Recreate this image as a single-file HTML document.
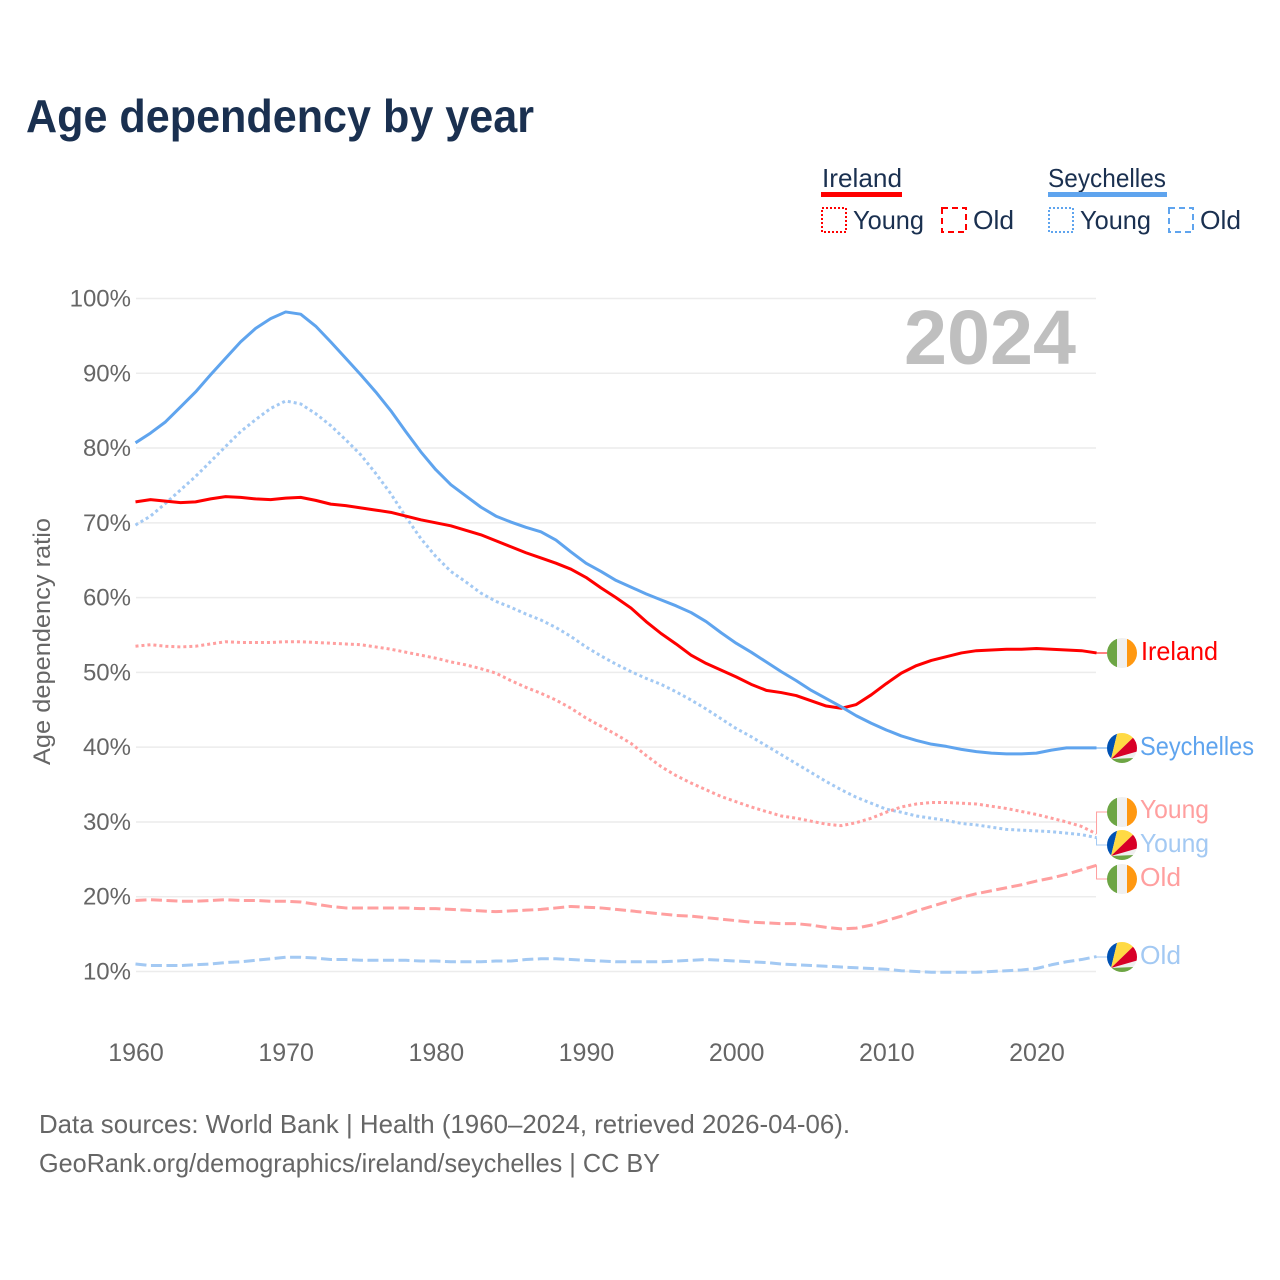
<!DOCTYPE html>
<html lang="en">
<head>
<meta charset="utf-8">
<title>Age dependency by year</title>
<style>
  html, body { margin: 0; padding: 0; background: #fff; }
  svg { display: block; font-family: "Liberation Sans", sans-serif; }
</style>
</head>
<body>
<svg id="chart" xmlns="http://www.w3.org/2000/svg" width="1280" height="1280" viewBox="0 0 1280 1280">
  <defs>
    <clipPath id="flag-clip"><circle cx="0" cy="0" r="15"></circle></clipPath>
    <g id="flag-ie" clip-path="url(#flag-clip)">
      <rect x="-15" y="-15" width="10" height="30" fill="#6DA544"></rect>
      <rect x="-5" y="-15" width="10" height="30" fill="#F0F0F0"></rect>
      <rect x="5" y="-15" width="10" height="30" fill="#FF9811"></rect>
    </g>
    <g id="flag-sc" clip-path="url(#flag-clip)">
      <rect x="-15" y="-15" width="30" height="30" fill="#F0F0F0"></rect>
      <polygon points="-11,11 -4,-18 -18,-18 -18,11" fill="#0052B4"></polygon>
      <polygon points="-11,11 -4,-18 18,-18 17,-16" fill="#FFDA44"></polygon>
      <polygon points="-11,11 17,-16 18,-16 18,2.6" fill="#D80027"></polygon>
      <polygon points="-11,11 18,9.7 18,18 -11,18" fill="#6DA544"></polygon>
    </g>
  </defs>

  <text x="26" y="132" font-size="46" font-weight="700" fill="#1a3050" textLength="508" lengthAdjust="spacingAndGlyphs">Age dependency by year</text>

  <g font-size="26" fill="#1a3050">
    <text x="822" y="187" textLength="80" lengthAdjust="spacingAndGlyphs">Ireland</text>
    <rect x="821" y="192" width="81" height="5" fill="#ff0000"></rect>
    <rect x="822" y="208" width="24" height="24" fill="none" stroke="#ff0000" stroke-width="2" stroke-dasharray="2 2"></rect>
    <text x="853" y="229" textLength="71" lengthAdjust="spacingAndGlyphs">Young</text>
    <rect x="942" y="208" width="24" height="24" fill="none" stroke="#ff0000" stroke-width="2" stroke-dasharray="6 4"></rect>
    <text x="973" y="229" textLength="41" lengthAdjust="spacingAndGlyphs">Old</text>

    <text x="1048" y="187" textLength="118" lengthAdjust="spacingAndGlyphs">Seychelles</text>
    <rect x="1048" y="192" width="119" height="5" fill="#5fa4ee"></rect>
    <rect x="1049" y="208" width="24" height="24" fill="none" stroke="#5fa4ee" stroke-width="2" stroke-dasharray="2 2"></rect>
    <text x="1080" y="229" textLength="71" lengthAdjust="spacingAndGlyphs">Young</text>
    <rect x="1169" y="208" width="24" height="24" fill="none" stroke="#5fa4ee" stroke-width="2" stroke-dasharray="6 4"></rect>
    <text x="1200" y="229" textLength="41" lengthAdjust="spacingAndGlyphs">Old</text>
  </g>

  <g id="grid"></g>
  <g id="y-ticks"></g>
  <g id="x-ticks"></g>

  <text x="904" y="364" font-size="77" font-weight="700" fill="#bfbfbf" textLength="172" lengthAdjust="spacingAndGlyphs">2024</text>

  <text transform="translate(50,765) rotate(-90)" font-size="24" fill="#666666" textLength="247" lengthAdjust="spacingAndGlyphs">Age dependency ratio</text>

  <g id="series"></g>
  <g id="connectors"></g>

  <g font-size="26">
    <use href="#flag-ie" x="1122" y="653"></use>
    <text x="1141" y="660" fill="#ff0000" textLength="77" lengthAdjust="spacingAndGlyphs">Ireland</text>
    <use href="#flag-sc" x="1122" y="748"></use>
    <text x="1140" y="755" fill="#5fa4ee" textLength="114" lengthAdjust="spacingAndGlyphs">Seychelles</text>
    <use href="#flag-ie" x="1122" y="812"></use>
    <text x="1140" y="818" fill="#ff9f9f" textLength="69" lengthAdjust="spacingAndGlyphs">Young</text>
    <use href="#flag-sc" x="1122" y="845"></use>
    <text x="1140" y="852" fill="#a3c9f3" textLength="69" lengthAdjust="spacingAndGlyphs">Young</text>
    <use href="#flag-ie" x="1122" y="879"></use>
    <text x="1140" y="886" fill="#ff9f9f" textLength="41" lengthAdjust="spacingAndGlyphs">Old</text>
    <use href="#flag-sc" x="1122" y="957"></use>
    <text x="1140" y="964" fill="#a3c9f3" textLength="41" lengthAdjust="spacingAndGlyphs">Old</text>
  </g>

  <g font-size="26" fill="#666666">
    <text x="39" y="1133" textLength="811" lengthAdjust="spacingAndGlyphs">Data sources: World Bank | Health (1960–2024, retrieved 2026-04-06).</text>
    <text x="39" y="1172" textLength="621" lengthAdjust="spacingAndGlyphs">GeoRank.org/demographics/ireland/seychelles | CC BY</text>
  </g>
</svg>

<script>
const years = [1960,1961,1962,1963,1964,1965,1966,1967,1968,1969,1970,1971,1972,1973,1974,1975,1976,1977,1978,1979,1980,1981,1982,1983,1984,1985,1986,1987,1988,1989,1990,1991,1992,1993,1994,1995,1996,1997,1998,1999,2000,2001,2002,2003,2004,2005,2006,2007,2008,2009,2010,2011,2012,2013,2014,2015,2016,2017,2018,2019,2020,2021,2022,2023,2024];
const yTickValues = [10,20,30,40,50,60,70,80,90,100];
const xTickValues = [1960,1970,1980,1990,2000,2010,2020];

const irelandTotal = [72.8,73.1,72.9,72.7,72.8,73.2,73.5,73.4,73.2,73.1,73.3,73.4,73.0,72.5,72.3,72.0,71.7,71.4,70.9,70.4,70.0,69.6,69.0,68.4,67.6,66.8,66.0,65.3,64.6,63.8,62.7,61.3,60.0,58.6,56.8,55.2,53.8,52.3,51.2,50.3,49.4,48.4,47.6,47.3,46.9,46.2,45.5,45.2,45.7,47.0,48.5,49.9,50.9,51.6,52.1,52.6,52.9,53.0,53.1,53.1,53.2,53.1,53.0,52.9,52.6];
const seychellesTotal = [80.7,82.0,83.5,85.5,87.5,89.8,92.0,94.2,96.0,97.3,98.2,97.9,96.3,94.2,92.0,89.8,87.5,85.0,82.2,79.5,77.1,75.1,73.6,72.1,70.9,70.1,69.4,68.8,67.7,66.1,64.6,63.5,62.3,61.4,60.5,59.7,58.9,58.0,56.8,55.3,53.9,52.7,51.4,50.1,48.9,47.6,46.5,45.4,44.2,43.2,42.3,41.5,40.9,40.4,40.1,39.7,39.4,39.2,39.1,39.1,39.2,39.6,39.9,39.9,39.9];
const irelandYoung = [53.5,53.7,53.5,53.4,53.5,53.8,54.1,54.0,54.0,54.0,54.1,54.1,54.0,53.9,53.8,53.7,53.4,53.1,52.7,52.3,51.9,51.4,51.0,50.5,49.9,48.9,48.0,47.2,46.3,45.2,43.9,42.8,41.7,40.5,38.9,37.4,36.2,35.2,34.3,33.4,32.7,32.0,31.4,30.8,30.5,30.1,29.7,29.5,29.9,30.5,31.3,32.0,32.4,32.6,32.6,32.5,32.4,32.1,31.8,31.4,31.0,30.5,30.0,29.4,28.4];
const seychellesYoung = [69.7,70.9,72.6,74.4,76.2,78.2,80.2,82.2,83.8,85.3,86.3,85.9,84.6,83.0,81.1,79.1,76.6,73.9,70.8,67.9,65.5,63.5,62.1,60.6,59.5,58.7,57.8,57.0,56.0,54.8,53.4,52.2,51.1,50.1,49.2,48.4,47.4,46.3,45.1,43.8,42.5,41.4,40.2,39.0,37.8,36.6,35.4,34.3,33.3,32.5,31.7,31.3,30.8,30.5,30.2,29.8,29.6,29.3,29.0,28.9,28.8,28.7,28.5,28.3,27.9];
const irelandOld = [19.5,19.6,19.5,19.4,19.4,19.5,19.6,19.5,19.5,19.4,19.4,19.3,19.0,18.7,18.5,18.5,18.5,18.5,18.5,18.4,18.4,18.3,18.2,18.1,18.0,18.1,18.2,18.3,18.5,18.7,18.6,18.5,18.3,18.1,17.9,17.7,17.5,17.4,17.2,17.0,16.8,16.6,16.5,16.4,16.4,16.2,15.9,15.7,15.8,16.2,16.8,17.4,18.1,18.7,19.3,19.9,20.4,20.8,21.2,21.6,22.1,22.5,23.0,23.6,24.2];
const seychellesOld = [11.0,10.8,10.8,10.8,10.9,11.0,11.2,11.3,11.5,11.7,11.9,11.9,11.8,11.6,11.6,11.5,11.5,11.5,11.5,11.4,11.4,11.3,11.3,11.3,11.4,11.4,11.6,11.7,11.7,11.6,11.5,11.4,11.3,11.3,11.3,11.3,11.4,11.5,11.6,11.5,11.4,11.3,11.2,11.0,10.9,10.8,10.7,10.6,10.5,10.4,10.3,10.1,10.0,9.9,9.9,9.9,9.9,10.0,10.1,10.2,10.4,10.9,11.3,11.6,12.0];

const NS = 'http://www.w3.org/2000/svg';
const xScale = function (year) { return 135.5 + (year - 1960) * 15.016; };
const yScale = function (value) { return 971.5 - (value - 10) * 7.478; };
const lastIndex = years.length - 1;
const endX = xScale(years[lastIndex]);

function make(tag, parentId, attrs) {
  const el = document.createElementNS(NS, tag);
  Object.keys(attrs).forEach(function (k) { el.setAttribute(k, attrs[k]); });
  document.getElementById(parentId).appendChild(el);
  return el;
}

yTickValues.forEach(function (v) {
  const line = make('line', 'grid', { x1: 136, x2: 1096, y1: yScale(v), y2: yScale(v), stroke: '#ececec', 'stroke-width': 1.5 });
  
  
  const label = make('text', 'y-ticks', { x: 131, y: yScale(v) + 8, 'text-anchor': 'end', 'font-size': 24, fill: '#666666' });
  label.textContent = v + '%';
  
  
});

xTickValues.forEach(function (year) {
  const label = make('text', 'x-ticks', { x: xScale(year) + 0.5, y: 1061, 'text-anchor': 'middle', 'font-size': 25, fill: '#666666' });
  label.textContent = String(year);
  
  
});

function drawSeries(values, color, width, dash, cap) {
  let d = '';
  values.forEach(function (v, i) {
    d += (i ? 'L' : 'M') + xScale(years[i]).toFixed(2) + ' ' + yScale(v).toFixed(2);
  });
  const attrs = { d: d, fill: 'none', stroke: color, 'stroke-width': width, 'stroke-linejoin': 'round' };
  if (dash) { attrs['stroke-dasharray'] = dash; }
  if (cap) { attrs['stroke-linecap'] = cap; }
  return make('path', 'series', attrs);
}

const seyOldLine = drawSeries(seychellesOld, '#a3c9f3', 3, '11 4.5');


const irOldLine = drawSeries(irelandOld, '#ff9f9f', 3, '11 4.5');


const seyYoungLine = drawSeries(seychellesYoung, '#a3c9f3', 3, '3 3');


const irYoungLine = drawSeries(irelandYoung, '#ff9f9f', 3, '3 3');


const irTotalLine = drawSeries(irelandTotal, '#ff0000', 3);


const seyTotalLine = drawSeries(seychellesTotal, '#5fa4ee', 3);



function connector(value, flagY, color) {
  const y0 = yScale(value);
  return make('path', 'connectors', {
    d: 'M' + endX + ' ' + y0 + 'L' + endX + ' ' + flagY + 'L1107 ' + flagY,
    fill: 'none', stroke: color, 'stroke-width': 1
  });
}
const connIreland = connector(irelandTotal[lastIndex], 653, '#ff0000');


const connSeychelles = connector(seychellesTotal[lastIndex], 748, '#5fa4ee');


const connIrYoung = connector(irelandYoung[lastIndex], 812, '#ff9f9f');


const connSeyYoung = connector(seychellesYoung[lastIndex], 845, '#a3c9f3');


const connIrOld = connector(irelandOld[lastIndex], 879, '#ff9f9f');


const connSeyOld = connector(seychellesOld[lastIndex], 957, '#a3c9f3');


</script>
</body>
</html>
